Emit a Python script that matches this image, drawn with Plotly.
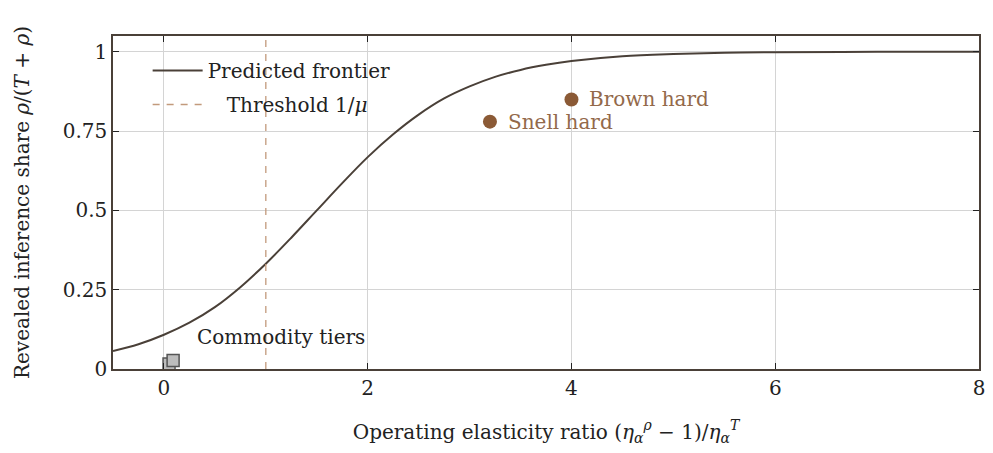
import plotly.graph_objects as go

# Predicted frontier
frontier_x = [-0.5, -0.25, 0.0, 0.25, 0.5, 0.75, 1.0, 1.25, 1.5, 1.75, 2.0, 2.25, 2.5, 2.75, 3.0,
              3.25, 3.5, 3.75, 4.0, 4.5, 5.0, 5.5, 6.0, 7.0, 8.0]
frontier_y = [0.057, 0.078, 0.108, 0.146, 0.195, 0.258, 0.332, 0.414, 0.500, 0.586, 0.668, 0.740,
              0.802, 0.853, 0.891, 0.921, 0.943, 0.959, 0.971, 0.986, 0.993, 0.997, 0.999, 1.0, 1.0]

threshold_x = 1.0

hard_names = ["Snell hard", "Brown hard"]
hard_x = [3.2, 4.0]
hard_y = [0.78, 0.85]

commodity_x = [0.05, 0.09]
commodity_y = [0.016, 0.027]
commodity_label = "Commodity tiers"
commodity_label_x = 0.3
commodity_label_y = 0.10

x_ticks = [0, 2, 4, 6, 8]
y_ticks = [0, 0.25, 0.5, 0.75, 1]
y_tick_labels = ["0", "0.25", "0.5", "0.75", "1"]

FONT = "DejaVu Serif"
FS = 20
DARK = "#4a4038"
BROWN = "#8b5a36"
BROWN_TXT = "#93694a"
DASH = "#c29a7c"
TXT = "#222222"

fig = go.Figure()

fig.add_trace(go.Scatter(
    x=frontier_x, y=frontier_y, mode="lines", line=dict(color=DARK, width=2, shape="spline"),
    name="Predicted frontier", legendgroup="a"))

fig.add_trace(go.Scatter(
    x=[threshold_x, threshold_x], y=[0, 1.05], mode="lines",
    line=dict(color=DASH, width=1.3, dash="7px,7px"),
    name="\u00a0\u00a0\u00a0Threshold 1/<i>μ</i>", legendgroup="b"))

fig.add_trace(go.Scatter(
    x=commodity_x, y=commodity_y, mode="markers", showlegend=False,
    marker=dict(symbol="square", size=12, color="#bdbdbd", line=dict(color="#555555", width=1.5))))

fig.add_trace(go.Scatter(
    x=hard_x, y=hard_y, mode="markers", showlegend=False,
    marker=dict(symbol="circle", size=14, color=BROWN)))

for name, hx, hy in zip(hard_names, hard_x, hard_y):
    fig.add_annotation(x=hx, y=hy, text=name, showarrow=False, xanchor="left", yanchor="middle",
                       xshift=16, font=dict(family=FONT, size=FS, color=BROWN_TXT))

fig.add_annotation(x=commodity_label_x, y=commodity_label_y, text=commodity_label, showarrow=False,
                   xanchor="left", yanchor="middle", font=dict(family=FONT, size=FS, color=TXT))

axis_common = dict(showline=True, linecolor=DARK, linewidth=1.5, mirror="ticks",
                   ticks="inside", ticklen=6, tickcolor="#222222", tickwidth=1.2,
                   showgrid=True, gridcolor="#d4d4d4", gridwidth=1, zeroline=False,
                   tickfont=dict(family=FONT, size=FS, color=TXT))

fig.update_xaxes(range=[-0.5, 8], tickvals=x_ticks,
                 title=dict(text="Operating elasticity ratio (<i>η</i><sub><i>α</i></sub><sup><i>ρ</i></sup> − 1)/<i>η</i><sub><i>α</i></sub><sup><i>T</i></sup>",
                            font=dict(family=FONT, size=FS, color=TXT), standoff=26),
                 **axis_common)
fig.update_yaxes(range=[0, 1.05], tickvals=y_ticks, ticktext=y_tick_labels,
                 title=dict(text="Revealed inference share <i>ρ</i>/(<i>T</i> + <i>ρ</i>)",
                            font=dict(family=FONT, size=FS, color=TXT), standoff=28),
                 **axis_common)

fig.update_layout(
    width=993, height=453,
    margin=dict(l=113, r=8, t=36, b=84),
    plot_bgcolor="white", paper_bgcolor="white",
    legend=dict(x=0.04, y=0.955, xanchor="left", yanchor="top", bgcolor="rgba(255,255,255,0)",
                font=dict(family=FONT, size=FS, color=TXT), itemwidth=50,
                traceorder="grouped", tracegroupgap=5),
)

fig.write_html("out.html")
